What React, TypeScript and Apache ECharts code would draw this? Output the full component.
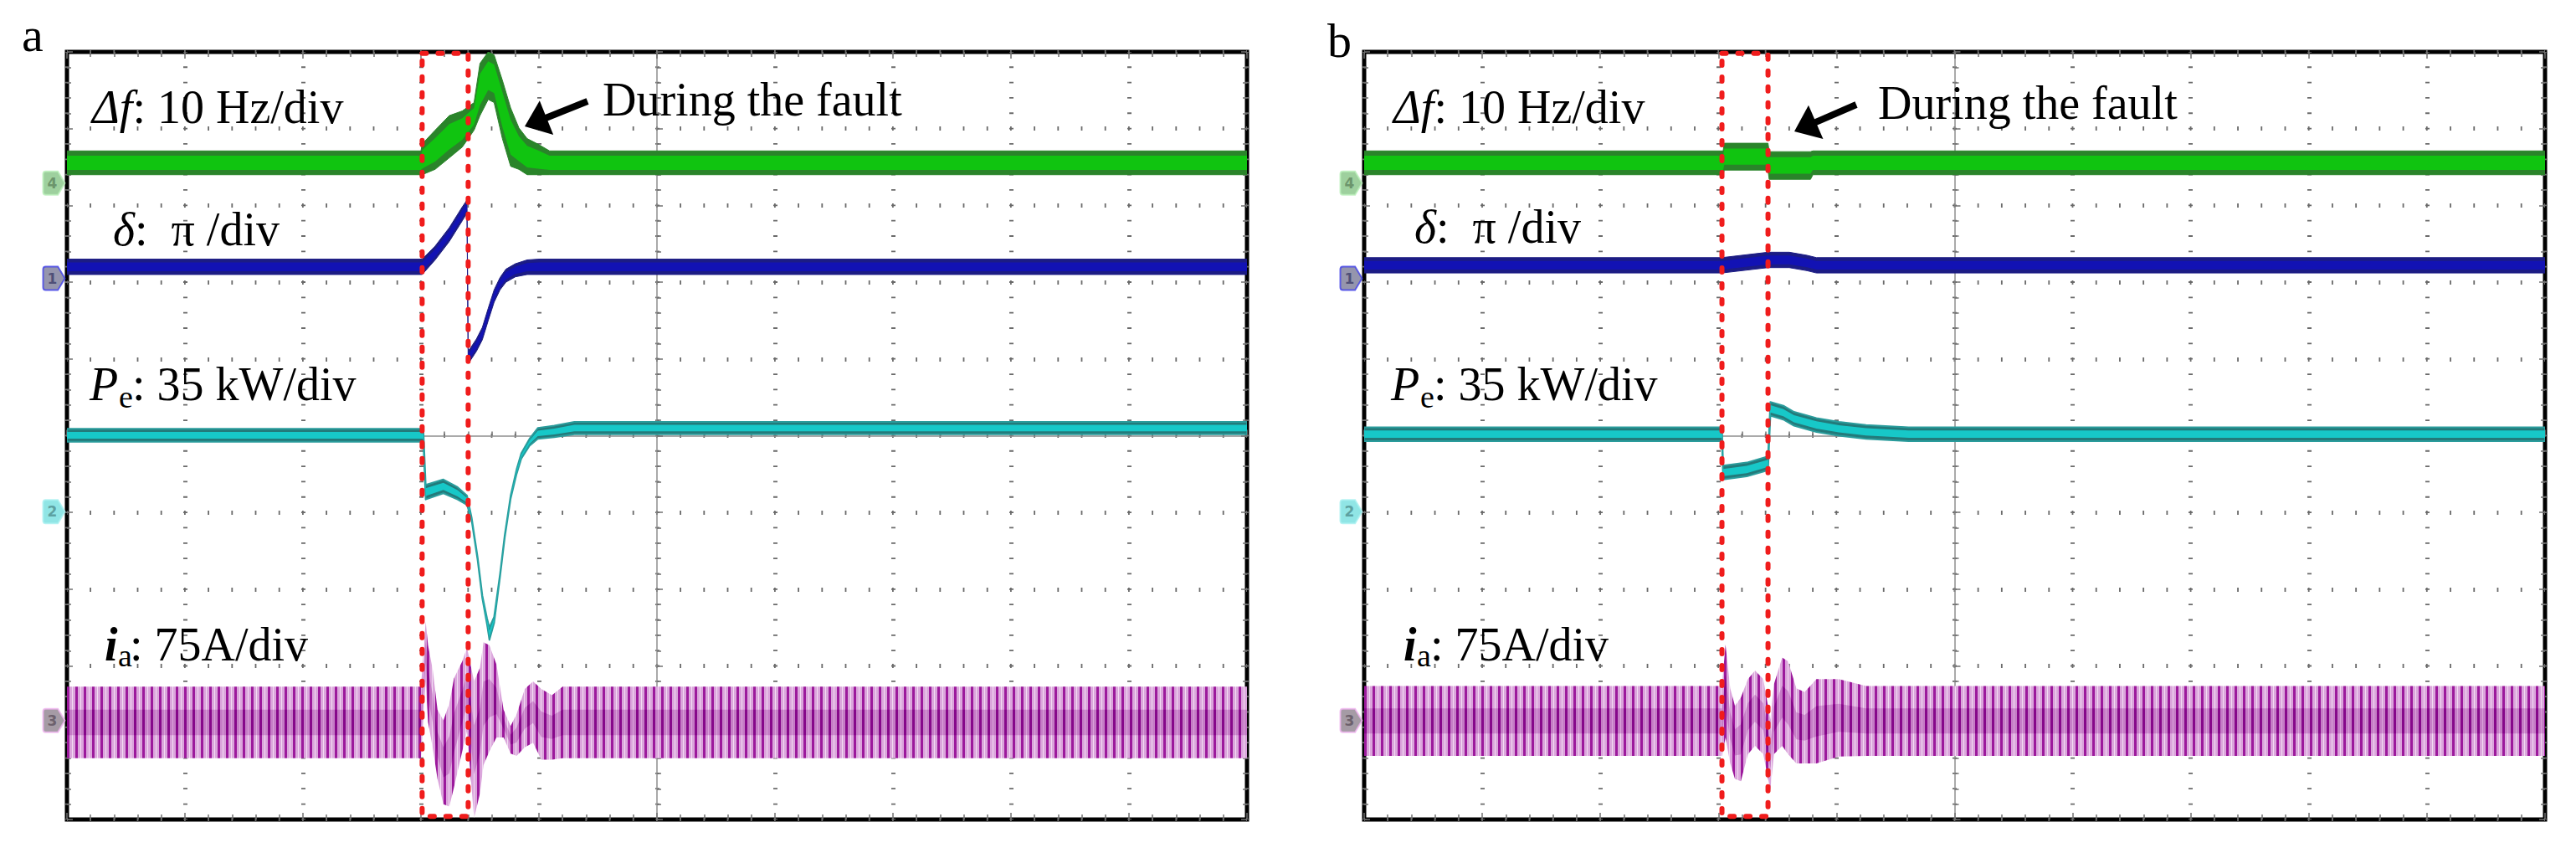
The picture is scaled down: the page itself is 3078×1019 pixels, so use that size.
import React, { useEffect, useRef } from 'react';
import * as echarts from 'echarts';

const W = 3078;
const H = 1019;

// All values are oscilloscope screen divisions, centred on the graticule (-5 … 5 in both directions).
// ---------------- Panel a ----------------
const dfA_t = [-5, -2.0, -1.99, -1.88, -1.76, -1.65, -1.55, -1.5, -1.43, -1.38, -1.31, -1.24, -1.17, -1.1, -1.01, -0.91, 5];
const dfA_hi = [3.71, 3.71, 3.8, 3.98, 4.17, 4.23, 4.34, 4.85, 5.0, 4.96, 4.63, 4.27, 4.01, 3.87, 3.8, 3.71, 3.71];
const dfA_lo = [3.4, 3.4, 3.4, 3.47, 3.62, 3.76, 3.98, 4.17, 4.38, 4.34, 3.87, 3.51, 3.47, 3.4, 3.4, 3.4, 3.4];

const deltaA_t = [-5, -1.99, -1.88, -1.76, -1.65, -1.61, -1.6, -1.59, -1.53, -1.48, -1.43, -1.38, -1.33, -1.28, -1.2, -1.1, -1.0, 5];
const deltaA_hi = [2.3, 2.3, 2.47, 2.71, 2.98, 3.07, 1.13, 1.12, 1.26, 1.41, 1.66, 1.9, 2.06, 2.17, 2.24, 2.29, 2.3, 2.3];
const deltaA_lo = [2.1, 2.1, 2.29, 2.53, 2.8, 2.9, 0.97, 0.96, 1.1, 1.25, 1.5, 1.74, 1.9, 2.0, 2.07, 2.1, 2.1, 2.1];

const peA_t = [-5, -1.98, -1.96, -1.81, -1.69, -1.61, -1.57, -1.52, -1.48, -1.44, -1.42, -1.38, -1.33, -1.29, -1.24, -1.19, -1.15, -1.08, -1.01, -0.87, -0.7, 5];
const peA_hi = [0.09, 0.09, -0.64, -0.57, -0.67, -0.78, -1.07, -1.58, -2.08, -2.38, -2.5, -2.36, -1.8, -1.29, -0.78, -0.44, -0.23, -0.04, 0.1, 0.13, 0.18, 0.18];
const peA_lo = [-0.08, -0.08, -0.83, -0.75, -0.83, -0.9, -1.11, -1.62, -2.12, -2.46, -2.66, -2.44, -1.84, -1.33, -0.82, -0.5, -0.3, -0.13, -0.04, -0.02, 0.02, 0.02];

const iaA_t = [-5, -2.0, -1.96, -1.94, -1.9, -1.86, -1.81, -1.76, -1.72, -1.65, -1.61, -1.55, -1.5, -1.47, -1.42, -1.36, -1.3, -1.24, -1.19, -1.12, -1.05, -0.98, -0.89, -0.8, 5];
const iaA_hi = [-3.27, -3.27, -2.42, -2.73, -3.05, -3.57, -3.71, -3.49, -3.16, -2.94, -2.76, -3.2, -3.02, -2.69, -2.73, -2.98, -3.57, -3.78, -3.63, -3.3, -3.2, -3.3, -3.38, -3.27, -3.27];
const iaA_lo = [-4.2, -4.2, -3.2, -3.73, -4.07, -4.47, -4.8, -4.83, -4.58, -4.11, -3.85, -4.98, -4.66, -4.29, -4.11, -3.93, -3.93, -4.14, -4.17, -4.06, -4.0, -4.22, -4.22, -4.2, -4.2];

const faultA = [-1.99, -1.6];

// ---------------- Panel b ----------------
const dfB_t = [-5, -1.96, -1.95, -1.58, -1.57, -1.22, -1.2, 5];
const dfB_hi = [3.71, 3.71, 3.81, 3.81, 3.7, 3.7, 3.71, 3.71];
const dfB_lo = [3.4, 3.4, 3.46, 3.46, 3.34, 3.34, 3.4, 3.4];

const deltaB_t = [-5, -1.97, -1.58, -1.4, -1.25, -1.17, 5];
const deltaB_hi = [2.32, 2.32, 2.39, 2.39, 2.35, 2.32, 2.32];
const deltaB_lo = [2.12, 2.12, 2.19, 2.19, 2.15, 2.12, 2.12];

const peB_t = [-5, -1.97, -1.96, -1.76, -1.58, -1.56, -1.45, -1.36, -1.17, -0.98, -0.75, -0.39, 5];
const peB_hi = [0.11, 0.11, -0.39, -0.35, -0.27, 0.44, 0.39, 0.31, 0.23, 0.18, 0.14, 0.11, 0.11];
const peB_lo = [-0.07, -0.07, -0.57, -0.53, -0.45, 0.26, 0.21, 0.13, 0.05, 0.0, -0.04, -0.07, -0.07];

const iaB_t = [-5, -1.97, -1.94, -1.9, -1.86, -1.81, -1.75, -1.69, -1.62, -1.56, -1.53, -1.46, -1.41, -1.34, -1.27, -1.17, -0.98, -0.75, 5];
const iaB_hi = [-3.26, -3.26, -2.72, -3.29, -3.52, -3.41, -3.17, -3.06, -3.17, -3.7, -3.24, -2.89, -2.94, -3.29, -3.34, -3.17, -3.17, -3.26, -3.26];
const iaB_lo = [-4.17, -4.17, -3.93, -4.27, -4.47, -4.5, -4.15, -4.04, -4.15, -4.62, -4.15, -4.04, -4.15, -4.27, -4.27, -4.27, -4.18, -4.17, -4.17];

const faultB = [-1.97, -1.58];
const faultBoxY = [4.98, -4.96];

// Channel ground markers (left of the graticule)
const markerIds = ['4', '1', '2', '3'];
const markerLevels = [3.29, 2.05, -0.99, -3.71];
const markerX = -5.11;

// Texts
const panelLetters = ['a', 'b'];
const labelDf = ['Δf', ': 10 Hz/div'];
const labelDelta = ['δ', ':  π /div'];
const labelPe = ['P', 'e', ': 35 kW/div'];
const labelIa = ['i', 'a', ': 75A/div'];
const faultText = 'During the fault';

const FONT = '"Liberation Serif", "Times New Roman", serif';

const grids = [
  { left: 80, top: 62, width: 1410, height: 917 },
  { left: 1630, top: 62, width: 1411, height: 917 },
];

const layoutText = [
  {
    letter: [26, 61], df: [110, 147], delta: [135, 293], pe: [107, 142, 158, 478, 487], ia: [125, 141, 155, 789, 796],
    fault: [720, 138], arrowTail: [702, 121], arrowTip: [627, 151],
  },
  {
    letter: [1586, 68], df: [1665, 147], delta: [1690, 290], pe: [1662, 1697, 1713, 478, 487], ia: [1677, 1693, 1709, 789, 796],
    fault: [2244, 142], arrowTail: [2218, 125], arrowTip: [2144, 157],
  },
];

function txt(x: number, baseline: number, text: string, size: number, italic = false, bold = false) {
  return {
    type: 'text', x, y: baseline - size * 0.3375, z: 50, silent: true,
    style: {
      text, fontFamily: FONT, fontSize: size, fontStyle: italic ? 'italic' : 'normal',
      fontWeight: bold ? 'bold' : 'normal', fill: '#000', align: 'left', verticalAlign: 'middle',
    },
  };
}

function richTxt(x: number, baseline: number, head: string, tail: string, size: number) {
  return {
    type: 'text', x, y: baseline - size * 0.3375, z: 50, silent: true,
    style: {
      text: `{h|${head}}{t|${tail}}`,
      rich: {
        h: { fontFamily: FONT, fontSize: size, fontStyle: 'italic', fill: '#000' },
        t: { fontFamily: FONT, fontSize: size, fill: '#000' },
      },
      align: 'left', verticalAlign: 'middle',
    },
  };
}

function arrow(tail: number[], tip: number[]) {
  const dx = tip[0] - tail[0];
  const dy = tip[1] - tail[1];
  const L = Math.hypot(dx, dy);
  const ux = dx / L, uy = dy / L;
  const headLen = 28, halfW = 22;
  const bx = tip[0] - ux * headLen, by = tip[1] - uy * headLen;
  const px = -uy, py = ux;
  return [
    { type: 'line', z: 50, silent: true, shape: { x1: tail[0], y1: tail[1], x2: bx + ux * 3, y2: by + uy * 3 }, style: { stroke: '#000', lineWidth: 8 } },
    { type: 'polygon', z: 50, silent: true, shape: { points: [[tip[0], tip[1]], [bx + px * halfW, by + py * halfW], [bx - px * halfW, by - py * halfW]] }, style: { fill: '#000' } },
  ];
}

export default function App() {
  const ref = useRef<HTMLDivElement>(null);

  useEffect(() => {
    const chart = echarts.init(ref.current!, null, { renderer: 'svg' });

    const makeStripe = (bg: string, stripe: string, hl: string, sw: number) => {
      const c = document.createElement('canvas');
      c.width = 10; c.height = 6;
      const ctx = c.getContext('2d')!;
      ctx.fillStyle = bg; ctx.fillRect(0, 0, 10, 6);
      ctx.fillStyle = stripe; ctx.fillRect(0, 0, sw, 6);
      ctx.fillStyle = hl; ctx.fillRect(6, 0, 1, 6);
      return { image: c, repeat: 'repeat', imageWidth: 10, imageHeight: 6 };
    };
    const iaPale = makeStripe('#dba6dc', '#9c1a9c', '#f2dcf2', 3);
    const iaDark = makeStripe('#c57cc6', '#86088a', '#d8a2d8', 3);

    const styles: any = {
      df: { outer: '#2a842a', inner: '#10c410', frac: 0.2, stroke: '#2a842a', lw: 1 },
      delta: { outer: '#1c1c84', inner: '#1212b4', frac: 0.22, stroke: '#1c1c84', lw: 1 },
      pe: { outer: '#237a7a', inner: '#17c8c8', frac: 0.24, stroke: '#2a9c9c', lw: 2 },
      ia: { outer: iaPale, inner: iaDark, frac: 0.32, stroke: null, lw: 0 },
    };

    const band = (g: number, name: string, t: number[], hi: number[], lo: number[], st: any, z: number) => ({
      type: 'custom', name, xAxisIndex: g * 3, yAxisIndex: g * 3, clip: true, z, silent: true,
      data: t.map((x, i) => [x, hi[i], lo[i]]),
      encode: { x: 0, y: [1, 2] },
      renderItem: (params: any, api: any) => {
        if (params.dataIndex !== 0) return null;
        const up = t.map((x, i) => api.coord([x, hi[i]]));
        const dn = t.map((x, i) => api.coord([x, lo[i]])).reverse();
        const iu = t.map((x, i) => api.coord([x, hi[i] - (hi[i] - lo[i]) * st.frac]));
        const idn = t.map((x, i) => api.coord([x, lo[i] + (hi[i] - lo[i]) * st.frac])).reverse();
        return {
          type: 'group',
          children: [
            { type: 'polygon', shape: { points: up.concat(dn) }, style: { fill: st.outer, stroke: st.stroke, lineWidth: st.lw, lineJoin: 'round' } },
            { type: 'polygon', shape: { points: iu.concat(idn) }, style: { fill: st.inner } },
          ],
        };
      },
    });

    const faultBox = (g: number, box: number[]) => ({
      type: 'custom', xAxisIndex: g * 3, yAxisIndex: g * 3, z: 20, silent: true,
      data: [[box[0], box[1]]],
      encode: { x: [0, 1] },
      renderItem: (params: any, api: any) => {
        const p0 = api.coord([api.value(0), faultBoxY[0]]);
        const p1 = api.coord([api.value(1), faultBoxY[1]]);
        return {
          type: 'rect',
          shape: { x: p0[0], y: p0[1], width: p1[0] - p0[0], height: p1[1] - p0[1] },
          style: { fill: 'none', stroke: '#f01c1c', lineWidth: 6, lineDash: [5, 14], lineCap: 'round' },
        };
      },
    });

    const markerFill = ['#86c486', '#7b7b98', '#74dede', '#8e828e'];
    const markerBorder = ['#b9efb9', '#3f3fe8', '#a8f0f0', '#f0b4f0'];
    const markerText = ['#5e855e', '#3c3c6a', '#4f8f8f', '#5e525e'];
    const markers = (g: number) => ({
      type: 'scatter', xAxisIndex: g * 3, yAxisIndex: g * 3, clip: false, z: 6, silent: true,
      symbol: 'path://M3,0 L17,0 L25,13 L17,26 L3,26 Q0,26 0,23 L0,3 Q0,0 3,0 Z',
      symbolSize: [26, 28],
      data: markerLevels.map((y, i) => ({
        value: [markerX, y],
        itemStyle: { color: markerFill[i], borderColor: markerBorder[i], borderWidth: 2 },
        label: { show: true, formatter: markerIds[i], color: markerText[i], position: 'inside', fontSize: 17, fontWeight: 'bold', fontFamily: 'DejaVu Sans', offset: [-2, 0] },
      })),
    });

    const xAxes: any[] = [];
    const yAxes: any[] = [];
    grids.forEach((gr, g) => {
      const minorX = gr.width / 50;
      const minorY = gr.height / 50;
      const tickStyle = { color: '#707070', width: 1.5 };
      xAxes.push(
        {
          type: 'value', gridIndex: g, min: -5, max: 5, interval: 1, position: 'bottom', silent: true,
          axisLine: { show: true, onZero: true, lineStyle: { color: '#8e8e8e', width: 1.5 } },
          axisTick: { show: true, inside: true, length: 7, lineStyle: tickStyle },
          minorTick: { show: true, splitNumber: 5, length: 5, lineStyle: tickStyle },
          axisLabel: { show: false },
          splitLine: { show: true, lineStyle: { color: '#6a6a6a', width: 5, type: [1.8, minorY - 1.8], dashOffset: 0.9 } },
        },
        {
          type: 'value', gridIndex: g, min: -5, max: 5, interval: 1, position: 'top', silent: true,
          axisLine: { show: false, onZero: false },
          axisTick: { show: true, inside: true, length: 8, lineStyle: tickStyle },
          minorTick: { show: true, splitNumber: 5, length: 6, lineStyle: tickStyle },
          axisLabel: { show: false }, splitLine: { show: false },
        },
        {
          type: 'value', gridIndex: g, min: -5, max: 5, interval: 1, position: 'bottom', silent: true,
          axisLine: { show: false, onZero: false },
          axisTick: { show: true, inside: true, length: 8, lineStyle: tickStyle },
          minorTick: { show: true, splitNumber: 5, length: 6, lineStyle: tickStyle },
          axisLabel: { show: false }, splitLine: { show: false },
        },
      );
      yAxes.push(
        {
          type: 'value', gridIndex: g, min: -5, max: 5, interval: 1, position: 'left', silent: true,
          axisLine: { show: true, onZero: true, lineStyle: { color: '#8e8e8e', width: 1.5 } },
          axisTick: { show: true, inside: true, length: 7, lineStyle: tickStyle },
          minorTick: { show: true, splitNumber: 5, length: 5, lineStyle: tickStyle },
          axisLabel: { show: false },
          splitLine: { show: true, lineStyle: { color: '#6a6a6a', width: 5, type: [1.8, minorX - 1.8], dashOffset: 0.9 } },
        },
        {
          type: 'value', gridIndex: g, min: -5, max: 5, interval: 1, position: 'left', silent: true,
          axisLine: { show: false, onZero: false },
          axisTick: { show: true, inside: true, length: 7, lineStyle: tickStyle },
          minorTick: { show: true, splitNumber: 5, length: 5, lineStyle: tickStyle },
          axisLabel: { show: false }, splitLine: { show: false },
        },
        {
          type: 'value', gridIndex: g, min: -5, max: 5, interval: 1, position: 'right', silent: true,
          axisLine: { show: false, onZero: false },
          axisTick: { show: true, inside: true, length: 7, lineStyle: tickStyle },
          minorTick: { show: true, splitNumber: 5, length: 5, lineStyle: tickStyle },
          axisLabel: { show: false }, splitLine: { show: false },
        },
      );
    });

    const series: any[] = [
      band(0, 'Δf a', dfA_t, dfA_hi, dfA_lo, styles.df, 3),
      band(0, 'δ a', deltaA_t, deltaA_hi, deltaA_lo, styles.delta, 3),
      band(0, 'Pe a', peA_t, peA_hi, peA_lo, styles.pe, 3),
      band(0, 'ia a', iaA_t, iaA_hi, iaA_lo, styles.ia, 2),
      faultBox(0, faultA),
      markers(0),
      band(1, 'Δf b', dfB_t, dfB_hi, dfB_lo, styles.df, 3),
      band(1, 'δ b', deltaB_t, deltaB_hi, deltaB_lo, styles.delta, 3),
      band(1, 'Pe b', peB_t, peB_hi, peB_lo, styles.pe, 3),
      band(1, 'ia b', iaB_t, iaB_hi, iaB_lo, styles.ia, 2),
      faultBox(1, faultB),
      markers(1),
    ];

    const graphic: any[] = [];
    layoutText.forEach((L, g) => {
      graphic.push(txt(L.letter[0], L.letter[1], panelLetters[g], 58));
      graphic.push(richTxt(L.df[0], L.df[1], labelDf[0], labelDf[1], 56));
      graphic.push(richTxt(L.delta[0], L.delta[1], labelDelta[0], labelDelta[1], 56));
      graphic.push(txt(L.pe[0], L.pe[3], labelPe[0], 56, true));
      graphic.push(txt(L.pe[1], L.pe[4], labelPe[1], 38));
      graphic.push(txt(L.pe[2], L.pe[3], labelPe[2], 56));
      graphic.push(txt(L.ia[0], L.ia[3], labelIa[0], 56, true, true));
      graphic.push(txt(L.ia[1], L.ia[4], labelIa[1], 38));
      graphic.push(txt(L.ia[2], L.ia[3], labelIa[2], 56));
      graphic.push(txt(L.fault[0], L.fault[1], faultText, 56));
      graphic.push(...arrow(L.arrowTail, L.arrowTip));
    });

    chart.setOption({
      animation: false,
      backgroundColor: '#ffffff',
      grid: grids.map((gr) => ({ ...gr, show: true, borderColor: '#000', borderWidth: 5, backgroundColor: 'transparent', containLabel: false })),
      xAxis: xAxes,
      yAxis: yAxes,
      series,
      graphic,
    });

    return () => chart.dispose();
  }, []);

  return <div ref={ref} style={{ position: 'absolute', left: 0, top: 0, width: W, height: H }} />;
}
